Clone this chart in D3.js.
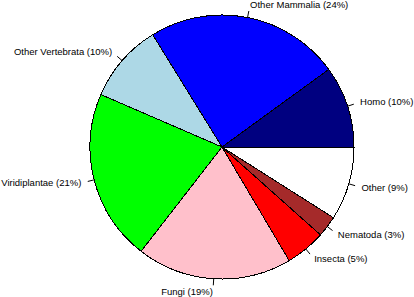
<!DOCTYPE html>
<html>
<head>
<meta charset="utf-8">
<script src="https://cdn.jsdelivr.net/npm/d3@7"></script>
<style>
  body { margin: 0; background: #fff; }
  text { font-family: "Liberation Sans", Arial, sans-serif; font-size: 9.5px; fill: #000; }
</style>
</head>
<body>
<svg class="chart"></svg>
<script>
var categories = ["Homo", "Other Mammalia", "Other Vertebrata", "Viridiplantae", "Fungi", "Insecta", "Nematoda", "Other"];
var shares = [10, 23.8, 9.7, 21, 19, 4.9, 2.6, 9];
var labels = ["Homo (10%)", "Other Mammalia (24%)", "Other Vertebrata (10%)", "Viridiplantae (21%)", "Fungi (19%)", "Insecta (5%)", "Nematoda (3%)", "Other (9%)"];
var colors = ["#000080", "#0000ff", "#add8e6", "#00ff00", "#ffc0cb", "#ff0000", "#a52a2a", "#ffffff"];

var width = 414;
var height = 297;
var cx = 222;
var cy = 147;
var radius = 132;

var data = [];
for(var i = 0; i < categories.length; i++){
    data.push({ name: categories[i], value: shares[i], label: labels[i], color: colors[i] });
}

var chart = d3.select(".chart")
    .attr("width", width)
    .attr("height", height)
    .append("g")
    .attr("transform", "translate(" + cx + "," + cy + ")");

// counter-clockwise from 3 o'clock, like R's pie()
var pie = d3.pie()
    .sort(null)
    .value(function(d){ return d.value; })
    .startAngle(Math.PI / 2)
    .endAngle(Math.PI / 2 - 2 * Math.PI);

var arc = d3.arc()
    .innerRadius(0)
    .outerRadius(radius);

var slices = pie(data);

chart.selectAll(".slice")
    .data(slices)
    .enter()
    .append("path")
    .attr("class", "slice")
    .attr("d", arc)
    .attr("fill", function(d){ return d.data.color; })
    .attr("stroke", "#000")
    .attr("stroke-width", 1)
    .attr("shape-rendering", "crispEdges");

function mid(d){
    return (d.startAngle + d.endAngle) / 2;
}

chart.selectAll(".tick")
    .data(slices)
    .enter()
    .append("line")
    .attr("class", "tick")
    .attr("x1", function(d){ return Math.sin(mid(d)) * radius; })
    .attr("y1", function(d){ return -Math.cos(mid(d)) * radius; })
    .attr("x2", function(d){ return Math.sin(mid(d)) * radius * 1.05; })
    .attr("y2", function(d){ return -Math.cos(mid(d)) * radius * 1.05; })
    .attr("stroke", "#000")
    .attr("stroke-width", 1);

chart.selectAll(".label")
    .data(slices)
    .enter()
    .append("text")
    .attr("class", "label")
    .attr("x", function(d){ return Math.sin(mid(d)) * radius * 1.1; })
    .attr("y", function(d){ return -Math.cos(mid(d)) * radius * 1.1; })
    .attr("dy", "0.33em")
    .style("text-anchor", function(d){ return Math.sin(mid(d)) > 0 ? "start" : "end"; })
    .text(function(d){ return d.data.label; });
</script>
</body>
</html>
